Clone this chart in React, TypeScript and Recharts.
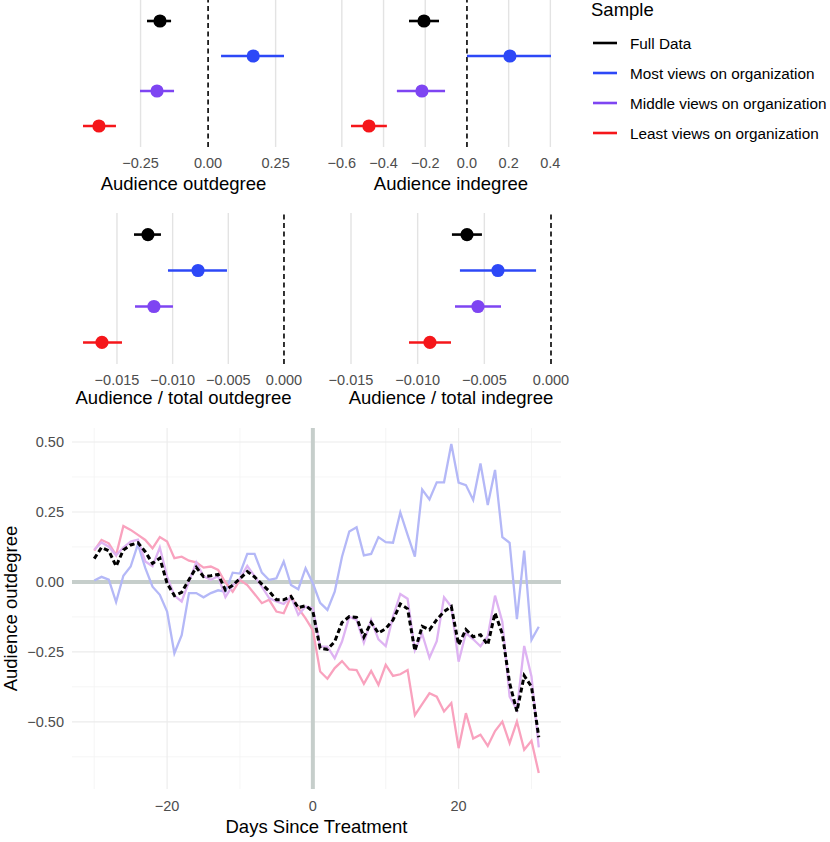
import React from "react";
import {
  ErrorBar,
  Line,
  LineChart,
  ReferenceLine,
  Scatter,
  ScatterChart,
  XAxis,
  YAxis,
} from "recharts";

const FONT = '"Liberation Sans", Arial, Helvetica, sans-serif';

const groups = [
  "Full Data",
  "Most views on organization",
  "Middle views on organization",
  "Least views on organization",
];
const groupColors = ["#000000", "#2D48F7", "#7E45F2", "#F5161A"];
const groupRows = [4, 3, 2, 1];

// coefficient estimates and intervals, in group order
const outdegEst = [-0.178, 0.167, -0.189, -0.404];
const outdegLow = [-0.226, 0.048, -0.252, -0.463];
const outdegHigh = [-0.137, 0.281, -0.126, -0.341];

const indegEst = [-0.206, 0.206, -0.216, -0.47];
const indegLow = [-0.278, 0.0, -0.336, -0.556];
const indegHigh = [-0.134, 0.403, -0.105, -0.384];

const shareOutEst = [-0.01222, -0.00772, -0.01168, -0.01635];
const shareOutLow = [-0.01347, -0.01042, -0.01338, -0.01805];
const shareOutHigh = [-0.01105, -0.00512, -0.00997, -0.01455];

const shareInEst = [-0.0063, -0.00398, -0.00548, -0.00908];
const shareInLow = [-0.00743, -0.00683, -0.0072, -0.01065];
const shareInHigh = [-0.00518, -0.00112, -0.00375, -0.0075];

// daily series
const days = [
  -30, -29, -28, -27, -26, -25, -24, -23, -22, -21, -20, -19, -18, -17, -16, -15,
  -14, -13, -12, -11, -10, -9, -8, -7, -6, -5, -4, -3, -2, -1, 0, 1, 2, 3, 4, 5,
  6, 7, 8, 9, 10, 11, 12, 13, 14, 15, 16, 17, 18, 19, 20, 21, 22, 23, 24, 25, 26,
  27, 28, 29, 30, 31,
];
const mostSeries = [
  0.005, 0.018, 0.008, -0.072, 0.022, 0.055, 0.135, 0.05, -0.017, -0.046, -0.106,
  -0.255, -0.19, -0.04, -0.04, -0.055, -0.04, -0.03, -0.035, 0.033, 0.03, 0.1, 0.1,
  0.033, 0.007, 0.013, 0.073, -0.011, -0.026, 0.049, -0.005, -0.075, -0.1, -0.035,
  0.09, 0.18, 0.195, 0.095, 0.1, 0.16, 0.142, 0.14, 0.248, 0.168, 0.09, 0.33, 0.295,
  0.356, 0.356, 0.493, 0.355, 0.346, 0.293, 0.423, 0.275, 0.4, 0.16, 0.14, -0.133,
  0.112, -0.207, -0.16,
];
const leastSeries = [
  0.112, 0.15, 0.138, 0.096, 0.2, 0.186, 0.168, 0.15, 0.12, 0.16, 0.144, 0.085, 0.09,
  0.076, 0.07, 0.051, 0.055, 0.043, -0.002, -0.035, 0.007, -0.011, -0.043, -0.076,
  -0.064, -0.106, -0.112, -0.052, -0.094, -0.13, -0.172, -0.32, -0.346, -0.308,
  -0.283, -0.313, -0.315, -0.364, -0.318, -0.368, -0.296, -0.336, -0.33, -0.315,
  -0.476, -0.437, -0.398, -0.41, -0.463, -0.433, -0.594, -0.469, -0.56, -0.546,
  -0.586, -0.533, -0.499, -0.576, -0.499, -0.6, -0.568, -0.683,
];
const middleSeries = [
  0.115, 0.141, 0.126, 0.095, 0.123, 0.144, 0.151, 0.073, 0.056, 0.123, 0.019,
  -0.049, -0.07, 0.001, 0.07, 0.02, 0.008, 0.02, -0.054, -0.012, 0.012, 0.057, 0.021,
  -0.017, -0.058, -0.07, -0.079, -0.052, -0.118, -0.088, -0.094, -0.231, -0.231,
  -0.273, -0.213, -0.124, -0.136, -0.217, -0.136, -0.205, -0.229, -0.124, -0.043,
  -0.06, -0.244, -0.186, -0.271, -0.212, -0.055, -0.089, -0.285, -0.183, -0.205,
  -0.23, -0.194, -0.049, -0.142, -0.41, -0.457, -0.229, -0.338, -0.591,
];
const fullSeries = [
  0.083, 0.123, 0.111, 0.056, 0.114, 0.132, 0.14, 0.108, 0.066, 0.085, -0.005,
  -0.049, -0.037, 0.008, 0.052, 0.019, 0.022, 0.027, -0.029, -0.012, 0.012, 0.037,
  0.018, -0.008, -0.033, -0.064, -0.064, -0.052, -0.092, -0.085, -0.105, -0.237,
  -0.241, -0.213, -0.145, -0.124, -0.127, -0.197, -0.145, -0.183, -0.167, -0.136,
  -0.079, -0.096, -0.246, -0.159, -0.171, -0.135, -0.106, -0.088, -0.225, -0.17,
  -0.196, -0.189, -0.225, -0.111, -0.186, -0.362, -0.463, -0.335, -0.374, -0.555,
];

const dayTicks = [-20, 0, 20];
const dayMinor = [-30, -10, 10, 30];
const valueTicks = [-0.5, -0.25, 0, 0.25, 0.5];
const valueMinor = [-0.625, -0.375, -0.125, 0.125, 0.375];

const fmt = (digits: number) => (v: number) =>
  v < 0 ? "\u2212" + Math.abs(v).toFixed(digits) : v.toFixed(digits);

const tickStyle = { fill: "#4D4D4D", fontSize: 14.5, fontFamily: FONT };

function Forest({
  left,
  top,
  plotW,
  plotH,
  domain,
  ticks,
  digits,
  title,
  titleDy,
  est,
  low,
  high,
}: {
  left: number;
  top: number;
  plotW: number;
  plotH: number;
  domain: [number, number];
  ticks: number[];
  digits: number;
  title: string;
  titleDy: number;
  est: number[];
  low: number[];
  high: number[];
}) {
  const mL = 40;
  const mR = 40;
  const axisH = 55;
  const series = groups.map((g, i) => ({
    name: g,
    color: groupColors[i],
    data: [{ x: est[i], y: groupRows[i], err: [est[i] - low[i], high[i] - est[i]] }],
  }));
  const renderTitle = (p: any) => {
    const vb = p.viewBox || {};
    return (
      <text
        x={vb.x + vb.width / 2}
        y={vb.y + titleDy}
        textAnchor="middle"
        fontSize={18.5}
        fontFamily={FONT}
        fill="#000"
      >
        {title}
      </text>
    );
  };
  return (
    <div style={{ position: "absolute", left: left - mL, top }}>
      <ScatterChart
        width={plotW + mL + mR}
        height={plotH + axisH}
        margin={{ top: 0, right: mR, bottom: 0, left: mL }}
      >
        <XAxis
          type="number"
          dataKey="x"
          domain={domain}
          ticks={ticks}
          interval={0}
          allowDataOverflow
          axisLine={false}
          tickLine={false}
          tickSize={0}
          tickMargin={11}
          height={axisH}
          tick={tickStyle}
          tickFormatter={fmt(digits)}
          label={renderTitle}
        />
        <YAxis type="number" dataKey="y" domain={[0.4, 4.6]} hide />
        {ticks
          .filter((t) => t !== 0)
          .map((t) => (
            <ReferenceLine key={"g" + t} x={t} stroke="#E3E3E3" strokeWidth={1.4} />
          ))}
        <ReferenceLine x={0} stroke="#000" strokeWidth={1.6} strokeDasharray="5 3.5" />
        {series.map((s) => (
          <Scatter
            key={s.name}
            name={s.name}
            data={s.data}
            fill={s.color}
            isAnimationActive={false}
            shape={(p: any) => <circle cx={p.cx} cy={p.cy} r={6.6} fill={s.color} />}
          >
            <ErrorBar dataKey="err" direction="x" width={0} stroke={s.color} strokeWidth={2.6} />
          </Scatter>
        ))}
      </ScatterChart>
    </div>
  );
}

function SampleLegend() {
  return (
    <svg
      width={240}
      height={150}
      style={{ position: "absolute", left: 585, top: 0, overflow: "visible" }}
    >
      <text x={6} y={15.5} fontSize={18.5} fontFamily={FONT} fill="#000">
        Sample
      </text>
      {groups.map((g, i) => (
        <g key={g}>
          <line x1={8} x2={32} y1={43 + i * 30} y2={43 + i * 30} stroke={groupColors[i]} strokeWidth={2.6} />
          <text x={45} y={48.5 + i * 30} fontSize={15.3} fontFamily={FONT} fill="#000">
            {g}
          </text>
        </g>
      ))}
    </svg>
  );
}

function Trend() {
  const data = days.map((d, i) => ({
    day: d,
    most: mostSeries[i],
    least: leastSeries[i],
    middle: middleSeries[i],
    full: fullSeries[i],
  }));
  const xTitle = (p: any) => {
    const vb = p.viewBox || {};
    return (
      <text x={vb.x + vb.width / 2} y={vb.y + 44} textAnchor="middle" fontSize={18.5} fontFamily={FONT} fill="#000">
        Days Since Treatment
      </text>
    );
  };
  const yTitle = (p: any) => {
    const vb = p.viewBox || {};
    const x = vb.x - 3;
    const y = vb.y + vb.height / 2;
    return (
      <text
        x={x}
        y={y}
        transform={`rotate(-90, ${x}, ${y})`}
        textAnchor="middle"
        fontSize={18.5}
        fontFamily={FONT}
        fill="#000"
      >
        Audience outdegree
      </text>
    );
  };
  return (
    <div style={{ position: "absolute", left: 0, top: 420 }}>
      <LineChart width={580} height={422} data={data} margin={{ top: 8, right: 19, bottom: 0, left: 20 }}>
        {dayMinor.map((v) => (
          <ReferenceLine key={"dx" + v} x={v} stroke="#F2F2F2" strokeWidth={0.8} />
        ))}
        {valueMinor.map((v) => (
          <ReferenceLine key={"vy" + v} y={v} stroke="#F2F2F2" strokeWidth={0.8} />
        ))}
        {dayTicks.map((v) => (
          <ReferenceLine key={"mx" + v} x={v} stroke="#EBEBEB" strokeWidth={1.1} />
        ))}
        {valueTicks.map((v) => (
          <ReferenceLine key={"my" + v} y={v} stroke="#EBEBEB" strokeWidth={1.1} />
        ))}
        <ReferenceLine x={0} stroke="#C6CECB" strokeWidth={4} />
        <ReferenceLine y={0} stroke="#C6CECB" strokeWidth={4} />
        <XAxis
          type="number"
          dataKey="day"
          domain={[-33.05, 34.05]}
          ticks={dayTicks}
          interval={0}
          axisLine={false}
          tickLine={false}
          tickSize={0}
          tickMargin={12}
          height={53}
          tick={tickStyle}
          tickFormatter={(v: number) => (v < 0 ? "\u2212" + Math.abs(v) : String(v))}
          label={xTitle}
        />
        <YAxis
          type="number"
          domain={[-0.74, 0.55]}
          ticks={valueTicks}
          interval={0}
          width={52}
          axisLine={false}
          tickLine={false}
          tickSize={0}
          tickMargin={8}
          tick={tickStyle}
          tickFormatter={fmt(2)}
          label={yTitle}
        />
        <Line dataKey="most" stroke="#B4B8F7" strokeWidth={2.3} dot={false} isAnimationActive={false} />
        <Line dataKey="least" stroke="#F9A2BE" strokeWidth={2.3} dot={false} isAnimationActive={false} />
        <Line dataKey="middle" stroke="#DEB3F2" strokeWidth={2.3} dot={false} isAnimationActive={false} />
        <Line
          dataKey="full"
          stroke="#000"
          strokeWidth={3}
          strokeDasharray="5 3"
          dot={false}
          isAnimationActive={false}
        />
      </LineChart>
    </div>
  );
}

export default function App() {
  return (
    <div
      style={{
        position: "absolute",
        left: 0,
        top: 0,
        width: 830,
        height: 842,
        background: "#fff",
        fontFamily: FONT,
      }}
    >
      <Forest left={73} top={0} plotW={221} plotH={147} domain={[-0.5, 0.318]} ticks={[-0.25, 0, 0.25]} digits={2} title="Audience outdegree" titleDy={43} est={outdegEst} low={outdegLow} high={outdegHigh} />
      <Forest left={341} top={0} plotW={220} plotH={147} domain={[-0.604, 0.451]} ticks={[-0.6, -0.4, -0.2, 0, 0.2, 0.4]} digits={1} title="Audience indegree" titleDy={43} est={indegEst} low={indegLow} high={indegHigh} />
      <Forest left={73} top={212.5} plotW={221} plotH={151} domain={[-0.01895, 0.0009]} ticks={[-0.015, -0.01, -0.005, 0]} digits={3} title="Audience / total outdegree" titleDy={40} est={shareOutEst} low={shareOutLow} high={shareOutHigh} />
      <Forest left={341} top={212.5} plotW={220} plotH={151} domain={[-0.01575, 0.00075]} ticks={[-0.015, -0.01, -0.005, 0]} digits={3} title="Audience / total indegree" titleDy={40} est={shareInEst} low={shareInLow} high={shareInHigh} />
      <SampleLegend />
      <Trend />
    </div>
  );
}
